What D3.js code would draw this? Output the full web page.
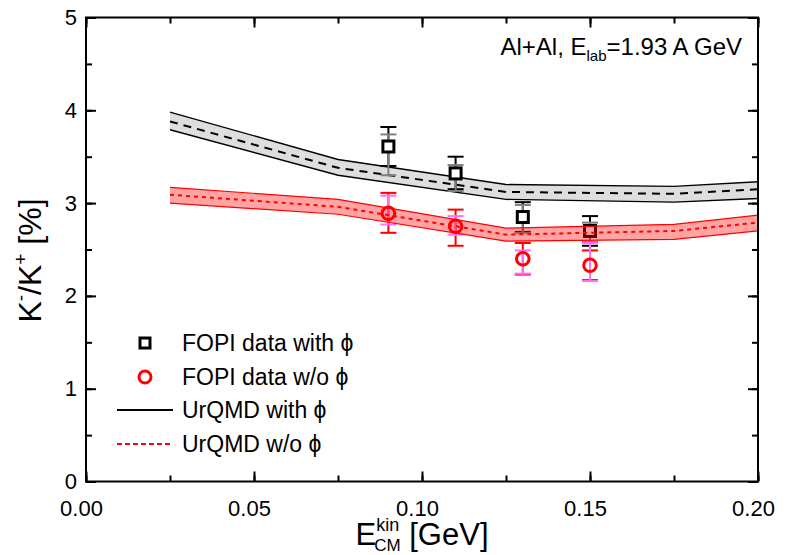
<!DOCTYPE html>
<html>
<head>
<meta charset="utf-8">
<script src="https://cdn.jsdelivr.net/npm/d3@7"></script>
<style>
  body { margin: 0; background: #fff; }
  svg { font-family: "Liberation Sans", Arial, sans-serif; }
</style>
</head>
<body>
<div id="chart"></div>
<script>
// UrQMD model bands (centre line and band edges)
var modelE = [0.025, 0.075, 0.125, 0.175, 0.2];
var withPhiMid = [3.88, 3.38, 3.12, 3.10, 3.15];
var withPhiLow = [3.79, 3.30, 3.04, 3.01, 3.05];
var withPhiHigh = [3.98, 3.47, 3.20, 3.18, 3.23];
var noPhiMid = [3.09, 2.96, 2.66, 2.70, 2.79];
var noPhiLow = [3.00, 2.88, 2.59, 2.61, 2.70];
var noPhiHigh = [3.17, 3.04, 2.73, 2.77, 2.87];

// FOPI data points
var dataE = [0.09, 0.11, 0.13, 0.15];
var fopiWith = [3.61, 3.32, 2.85, 2.70];
var fopiWithStatLo = [3.40, 3.15, 2.69, 2.54];
var fopiWithStatHi = [3.82, 3.50, 3.01, 2.86];
var fopiWithSysLo = [3.30, 3.13, 2.68, 2.58];
var fopiWithSysHi = [3.74, 3.41, 2.98, 2.79];
var fopiNo = [2.89, 2.75, 2.40, 2.33];
var fopiNoStatLo = [2.68, 2.54, 2.23, 2.17];
var fopiNoStatHi = [3.11, 2.93, 2.57, 2.49];
var fopiNoSysLo = [2.77, 2.66, 2.24, 2.16];
var fopiNoSysHi = [3.08, 2.86, 2.49, 2.57];

var xTicks = [0, 0.05, 0.10, 0.15, 0.20];
var yTicks = [0, 1, 2, 3, 4, 5];
var legendLabels = ['FOPI data with \u03D5', 'FOPI data w/o \u03D5', 'UrQMD with \u03D5', 'UrQMD w/o \u03D5'];

var W = 792, H = 555;
var margin = {top: 17.5, right: 34, bottom: 73.5, left: 86};
var width = W - margin.left - margin.right;
var height = H - margin.top - margin.bottom;

var x = d3.scaleLinear().domain([0, 0.2]).range([0, width]);
var y = d3.scaleLinear().domain([0, 5]).range([height, 0]);

var svg = d3.select('#chart')
  .append('svg')
  .attr('width', W)
  .attr('height', H)
  .append('g')
  .attr('transform', 'translate(' + margin.left + ',' + margin.top + ')');

function pts(xs, ys) {
  return xs.map(function(d, i) { return [d, ys[i]]; });
}

var line = d3.line()
  .x(function(d) { return x(d[0]); })
  .y(function(d) { return y(d[1]); });

var area = d3.area()
  .x(function(d) { return x(d.e); })
  .y0(function(d) { return y(d.lo); })
  .y1(function(d) { return y(d.hi); });

function band(lo, hi) {
  return modelE.map(function(e, i) { return {e: e, lo: lo[i], hi: hi[i]}; });
}

function drawBand(lo, hi, mid, fill, stroke, dash, edgeW) {
  var g = svg.append('g');
  g.append('path')
    .datum(band(lo, hi))
    .attr('d', area)
    .style('fill', fill)
    .style('stroke', 'none');
  [lo, hi].forEach(function(edge) {
    g.append('path')
      .datum(pts(modelE, edge))
      .attr('d', line)
      .style('fill', 'none')
      .style('stroke', stroke)
      .style('stroke-width', edgeW);
  });
  g.append('path')
    .datum(pts(modelE, mid))
    .attr('d', line)
    .style('fill', 'none')
    .style('stroke', stroke)
    .style('stroke-width', 2)
    .style('stroke-dasharray', dash);
}

function drawErr(lo, hi, color) {
  var g = svg.append('g').style('stroke', color).style('stroke-width', 2);
  dataE.forEach(function(e, i) {
    var cx = x(e);
    g.append('line').attr('x1', cx).attr('x2', cx).attr('y1', y(lo[i])).attr('y2', y(hi[i]));
    [lo[i], hi[i]].forEach(function(v) {
      g.append('line').attr('x1', cx - 8).attr('x2', cx + 8).attr('y1', y(v)).attr('y2', y(v));
    });
  });
}

// black band (UrQMD with phi)
drawBand(withPhiLow, withPhiHigh, withPhiMid, '#dedede', '#000', '8,6', 1.4);

// FOPI data with phi
drawErr(fopiWithStatLo, fopiWithStatHi, '#000');
drawErr(fopiWithSysLo, fopiWithSysHi, '#808080');
svg.append('g').selectAll('rect')
  .data(pts(dataE, fopiWith))
  .enter()
  .append('rect')
  .attr('x', function(d) { return x(d[0]) - 5.5; })
  .attr('y', function(d) { return y(d[1]) - 5.5; })
  .attr('width', 11)
  .attr('height', 11)
  .style('fill', '#fff')
  .style('stroke', '#000')
  .style('stroke-width', 3);

// FOPI data without phi
drawErr(fopiNoStatLo, fopiNoStatHi, '#ff0000');
drawErr(fopiNoSysLo, fopiNoSysHi, '#ff70ff');
svg.append('g').selectAll('circle')
  .data(pts(dataE, fopiNo))
  .enter()
  .append('circle')
  .attr('cx', function(d) { return x(d[0]); })
  .attr('cy', function(d) { return y(d[1]); })
  .attr('r', 6.3)
  .style('fill', 'none')
  .style('stroke', '#ff0000')
  .style('stroke-width', 3);

// red band (UrQMD w/o phi), translucent on top
drawBand(noPhiLow, noPhiHigh, noPhiMid, 'rgba(255,0,0,0.36)', '#ff0000', '4,4', 1.2);

// axes: frame with inward ticks on all four sides
var axisG = svg.append('g');

function ticksOn(g, axis) {
  g.call(axis);
  g.select('.domain').remove();
  g.selectAll('line').style('stroke', '#000').style('stroke-width', 2);
  g.selectAll('text')
    .style('font-family', '"Liberation Sans", Arial, sans-serif')
    .style('font-size', '22px')
    .style('fill', '#000');
}

var xMinor = d3.range(0, 0.2001, 0.025);
var yMinor = d3.range(0, 5.01, 0.5);

ticksOn(axisG.append('g').attr('transform', 'translate(0,' + height + ')'),
  d3.axisBottom(x).tickValues(xMinor).tickSize(-6).tickFormat(''));
var xLab = axisG.append('g').attr('transform', 'translate(0,' + height + ')');
ticksOn(xLab,
  d3.axisBottom(x).tickValues(xTicks).tickSize(-10).tickPadding(19).tickFormat(d3.format('.2f')));
xLab.selectAll('text').attr('dx', -5);
ticksOn(axisG.append('g'),
  d3.axisTop(x).tickValues(xMinor).tickSize(-6).tickFormat(''));
ticksOn(axisG.append('g'),
  d3.axisTop(x).tickValues(xTicks).tickSize(-10).tickFormat(''));
ticksOn(axisG.append('g'),
  d3.axisLeft(y).tickValues(yMinor).tickSize(-6).tickFormat(''));
ticksOn(axisG.append('g'),
  d3.axisLeft(y).tickValues(yTicks).tickSize(-10).tickPadding(9).tickFormat(d3.format('d')));
ticksOn(axisG.append('g').attr('transform', 'translate(' + width + ',0)'),
  d3.axisRight(y).tickValues(yMinor).tickSize(-6).tickFormat(''));
ticksOn(axisG.append('g').attr('transform', 'translate(' + width + ',0)'),
  d3.axisRight(y).tickValues(yTicks).tickSize(-10).tickFormat(''));

svg.append('rect')
  .attr('width', width)
  .attr('height', height)
  .style('fill', 'none')
  .style('stroke', '#000')
  .style('stroke-width', 2);

// axis titles
var xt = svg.append('text')
  .attr('x', 336)
  .attr('y', height + 63.5)
  .style('text-anchor', 'middle')
  .style('font-size', '31px');
xt.append('tspan').text('E');
xt.append('tspan').attr('dy', -14).style('font-size', '18px').text('kin');
xt.append('tspan').attr('dx', -25).attr('dy', 20).style('font-size', '17px').text('CM');
xt.append('tspan').attr('dy', -6).text(' [GeV]');

var yt = svg.append('text')
  .attr('transform', 'translate(' + (-45) + ',' + 243 + ') rotate(-90)')
  .style('text-anchor', 'middle')
  .style('font-size', '32px');
yt.append('tspan').text('K');
yt.append('tspan').attr('dy', -14).style('font-size', '19px').text('-');
yt.append('tspan').attr('dy', 14).text('/K');
yt.append('tspan').attr('dy', -14).style('font-size', '19px').text('+');
yt.append('tspan').attr('dy', 14).text(' [%]');

// system annotation
var ann = svg.append('text')
  .attr('x', 656)
  .attr('y', 37)
  .style('text-anchor', 'end')
  .style('font-size', '24px');
ann.append('tspan').text('Al+Al, E');
ann.append('tspan').attr('dy', 6).style('font-size', '15px').text('lab');
ann.append('tspan').attr('dy', -6).text('=1.93 A GeV');

// legend
var leg = svg.append('g').attr('transform', 'translate(' + (-margin.left) + ',' + (-margin.top) + ')');
var rowY = [343, 377, 410, 444];
leg.append('rect')
  .attr('x', 140).attr('y', rowY[0] - 5).attr('width', 10).attr('height', 10)
  .style('fill', '#fff').style('stroke', '#000').style('stroke-width', 3);
leg.append('circle')
  .attr('cx', 145).attr('cy', rowY[1]).attr('r', 6)
  .style('fill', 'none').style('stroke', '#ff0000').style('stroke-width', 3);
leg.append('line')
  .attr('x1', 117).attr('x2', 173).attr('y1', rowY[2]).attr('y2', rowY[2])
  .style('stroke', '#000').style('stroke-width', 2);
leg.append('line')
  .attr('x1', 117).attr('x2', 173).attr('y1', rowY[3]).attr('y2', rowY[3])
  .style('stroke', '#ff0000').style('stroke-width', 2).style('stroke-dasharray', '5,3');
leg.selectAll('text.lab')
  .data(legendLabels)
  .enter()
  .append('text')
  .attr('class', 'lab')
  .attr('x', 182)
  .attr('y', function(d, i) { return rowY[i] + 8; })
  .style('font-size', '23px')
  .text(function(d) { return d; });
</script>
</body>
</html>
